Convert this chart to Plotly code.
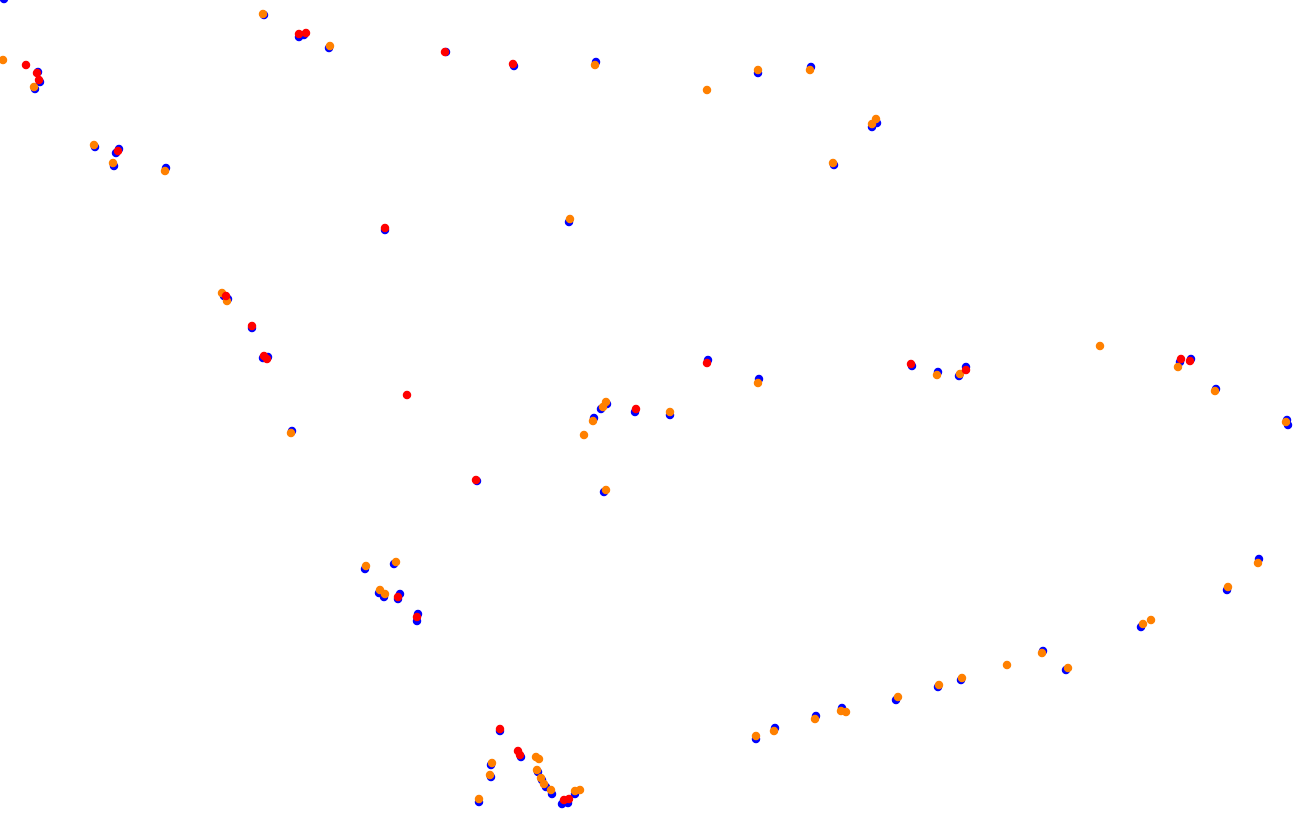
import plotly.graph_objects as go

# Blue series (underlying layer)
blue_x = [4, 38, 40, 35, 264, 299, 304, 329, 95, 119, 116, 114, 166, 385,
          446, 514, 596, 758, 811, 834, 569, 872, 877,
          224, 228, 252, 263, 268, 292,
          708, 759, 607, 601, 594, 635, 670, 477, 604,
          912, 938, 959, 966, 1180, 1191, 1216, 1287, 1288,
          365, 394, 379, 384, 400, 398, 418, 417,
          500, 521, 491, 491, 479, 538, 542, 546, 552, 562, 568, 575,
          756, 775, 816, 842,
          896, 938, 961, 1043, 1066, 1141, 1227, 1259]
blue_y = [-1, 72, 82, 89, 15, 37, 35, 48, 147, 149, 153, 166, 168, 230,
          52, 66, 62, 73, 67, 165, 222, 127, 123,
          296, 299, 328, 358, 357, 431,
          360, 379, 404, 409, 418, 412, 415, 481, 492,
          366, 372, 376, 367, 362, 359, 389, 420, 425,
          569, 564, 593, 597, 594, 599, 614, 621,
          731, 757, 765, 777, 802, 772, 780, 787, 794, 804, 803, 794,
          739, 728, 716, 708,
          700, 687, 680, 651, 670, 627, 590, 559]

# Orange series
orange_x = [3, 34, 263, 330, 94, 113, 165,
            595, 707, 758, 810, 833, 570, 872, 876,
            222, 227, 291,
            758, 606, 603, 593, 584, 670, 606,
            937, 960, 1100, 1178, 1215, 1286,
            366, 396, 380, 385,
            492, 490, 479, 536, 539, 537, 541, 544, 551, 575, 580,
            756, 774, 815, 841, 846,
            898, 939, 962, 1007, 1042, 1068, 1143, 1151, 1228, 1258]
orange_y = [60, 87, 14, 46, 145, 163, 171,
            65, 90, 70, 70, 163, 219, 124, 119,
            293, 301, 433,
            383, 402, 407, 421, 435, 412, 490,
            375, 374, 346, 367, 391, 422,
            566, 562, 590, 594,
            763, 775, 799, 757, 759, 770, 778, 784, 790, 791, 790,
            736, 731, 719, 711, 712,
            697, 685, 678, 665, 653, 668, 624, 620, 587, 563]

# Red series (top layer)
red_x = [26, 37, 39, 299, 306, 118, 385, 445, 513,
         226, 252, 264, 267, 407,
         707, 636, 476,
         911, 966, 1181, 1190,
         398, 417,
         500, 518, 520, 564, 569]
red_y = [65, 73, 80, 34, 33, 151, 228, 52, 64,
         296, 326, 356, 359, 395,
         363, 409, 480,
         364, 370, 359, 361,
         597, 617,
         729, 751, 755, 800, 799]

fig = go.Figure()
for xs, ys, col in [(blue_x, blue_y, "#0000ff"),
                    (orange_x, orange_y, "#ff8000"),
                    (red_x, red_y, "#ff0000")]:
    fig.add_trace(go.Scatter(x=xs, y=ys, mode="markers",
                             marker=dict(color=col, size=8.5, line=dict(width=0)),
                             hoverinfo="skip", showlegend=False))

fig.update_layout(
    width=1296, height=822,
    margin=dict(l=0, r=0, t=0, b=0),
    paper_bgcolor="white", plot_bgcolor="white",
    xaxis=dict(range=[0, 1296], visible=False, fixedrange=True),
    yaxis=dict(range=[822, 0], visible=False, fixedrange=True),
    showlegend=False,
)
fig.write_html("out.html", config={"displayModeBar": False},
               post_script="document.body.style.margin='0';document.body.style.overflow='hidden';")
